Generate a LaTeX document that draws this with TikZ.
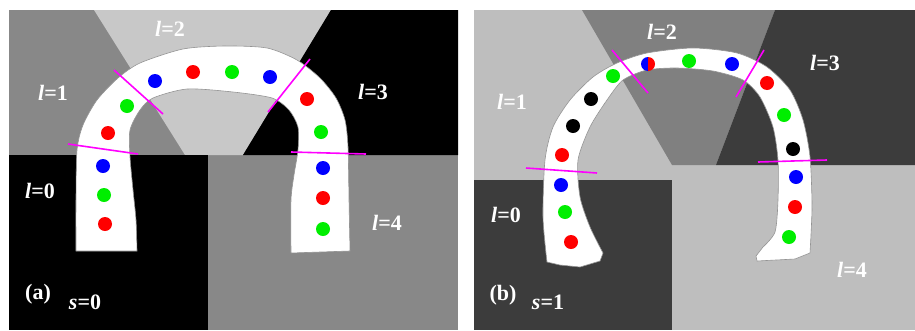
\documentclass[tikz,border=0pt]{standalone}
\usepackage{fontspec}
\setmainfont{Liberation Serif}
\definecolor{midA}{HTML}{888888}
\definecolor{lightA}{HTML}{C8C8C8}
\definecolor{lightB}{HTML}{BEBEBE}
\definecolor{midB}{HTML}{808080}
\definecolor{darkB}{HTML}{3C3C3C}
\definecolor{dotgreen}{HTML}{00EE00}
\definecolor{cutmag}{RGB}{255,0,255}
\tikzset{
  lab/.style={text=white,inner sep=0pt,font=\fontsize{22}{24}\selectfont\bfseries},
  cut/.style={cutmag,line width=1.6pt},
  tube/.style={fill=white,draw=gray!85,line width=0.6pt}
}
\begin{document}
\begin{tikzpicture}[x=1pt,y=-1pt]
        \useasboundingbox (0,0) rectangle (915,330);

        % panel (a): regions
        \fill[midA] (9,10) rectangle (458,330); % l=1 and l=4
        \fill[lightA] (94,10) -- (331,10) -- (243,155) -- (185,155) -- cycle; % l=2
        \fill[black] (331,10) -- (458,10) -- (458,155) -- (243,155) -- cycle; % l=3
        \fill[black] (9,155) rectangle (208,330); % l=0

        % tube (a)
        \draw[tube] plot[smooth,tension=0.45] coordinates {(76,251) (76,200) (77,150) (83,125) (97,100) (118,78) (140,63) (183,49) (225,46) (267,48) (297,60) (320,78) (336,98) (345,120) (348,147) (349,200) (350,251)}
          -- plot[smooth,tension=0.45] coordinates {(291,253) (291,200) (294,175) (298,150) (298,127) (289,110) (272,98) (233,92) (187,89) (153,98) (140,110) (130,130) (130,157) (133,190) (136,220) (137,251)} -- cycle;

        \draw[cut] (68,144) -- (138,154);
        \draw[cut] (114,70) -- (163,114);
        \draw[cut] (310,59) -- (268,112);
        \draw[cut] (291,152) -- (366,154);

        \fill[red] (105,224) circle (7); \fill[dotgreen] (104,195) circle (7); \fill[blue] (103,166) circle (7);
        \fill[red] (108,133) circle (7); \fill[dotgreen] (127,106) circle (7);
        \fill[blue] (155,81) circle (7); \fill[red] (193,72) circle (7); \fill[dotgreen] (232,72) circle (7); \fill[blue] (270,77) circle (7);
        \fill[red] (307,99) circle (7); \fill[dotgreen] (321,132) circle (7);
        \fill[blue] (323,168) circle (7); \fill[red] (323,198) circle (7); \fill[dotgreen] (323,229) circle (7);

        \node[lab] (a2) at (170,29) {\textit{l}=2};
        \node[lab] (a1) at (53,93) {\textit{l}=1};
        \node[lab] (a3) at (373,92) {\textit{l}=3};
        \node[lab] (a0) at (40,191) {\textit{l}=0};
        \node[lab] (a4) at (387,223) {\textit{l}=4};
        \node[lab] (atag) at (38,294) {(a)};
        \node[lab] (as) at (85,302) {\textit{s}=0};

        % panel (b): regions
        \fill[lightB] (474,10) rectangle (915,330); % l=1 and l=4
        \fill[midB] (582,10) -- (775,10) -- (716,165) -- (672,165) -- cycle; % l=2
        \fill[darkB] (775,10) -- (915,10) -- (915,165) -- (716,165) -- cycle; % l=3
        \fill[darkB] (474,180) rectangle (672,330); % l=0

        % tube (b)
        \draw[tube] plot[smooth,tension=0.45] coordinates {(547,262) (543,217) (545,160) (553,127) (570,100) (593,77) (617,63) (647,53) (693,48) (737,53) (767,67) (790,90) (803,120) (810,157) (812,207) (810,253)}
          -- (795,259) -- (757,261) -- (756,256)
          -- plot[smooth,tension=0.45] coordinates {(763,247) (775,232) (778,200) (778,160) (773,127) (760,97) (743,80) (713,71) (677,68) (647,70) (623,80) (607,100) (590,127) (578,160) (580,197) (590,227) (603,253)}
          -- (600,261) -- (580,267) -- (560,265) -- cycle;

        \draw[cut] (526,168) -- (597,173);
        \draw[cut] (612,50) -- (648,93);
        \draw[cut] (764,50) -- (736,97);
        \draw[cut] (758,162) -- (827,160);

        \fill[red] (571,242) circle (7); \fill[dotgreen] (565,212) circle (7); \fill[blue] (561,185) circle (7);
        \fill[red] (562,155) circle (7); \fill[black] (573,126) circle (7); \fill[black] (591,99) circle (7);
        \fill[dotgreen] (613,76) circle (7);
        \fill[blue] (648,64) ++(90:7) arc (90:270:7) -- cycle; % half blue
        \fill[red] (648,64) ++(-90:7) arc (-90:90:7) -- cycle; % half red
        \fill[dotgreen] (689,61) circle (7); \fill[blue] (732,64) circle (7);
        \fill[red] (767,83) circle (7); \fill[dotgreen] (784,115) circle (7); \fill[black] (793,149) circle (7);
        \fill[blue] (796,177) circle (7); \fill[red] (795,207) circle (7); \fill[dotgreen] (789,237) circle (7);

        \node[lab] (b2) at (662,32) {\textit{l}=2};
        \node[lab] (b1) at (512,102) {\textit{l}=1};
        \node[lab] (b3) at (825,63) {\textit{l}=3};
        \node[lab] (b0) at (506,215) {\textit{l}=0};
        \node[lab] (b4) at (852,270) {\textit{l}=4};
        \node[lab] (btag) at (503,295) {(b)};
        \node[lab] (bs) at (548,302) {\textit{s}=1};
\end{tikzpicture}
\end{document}
